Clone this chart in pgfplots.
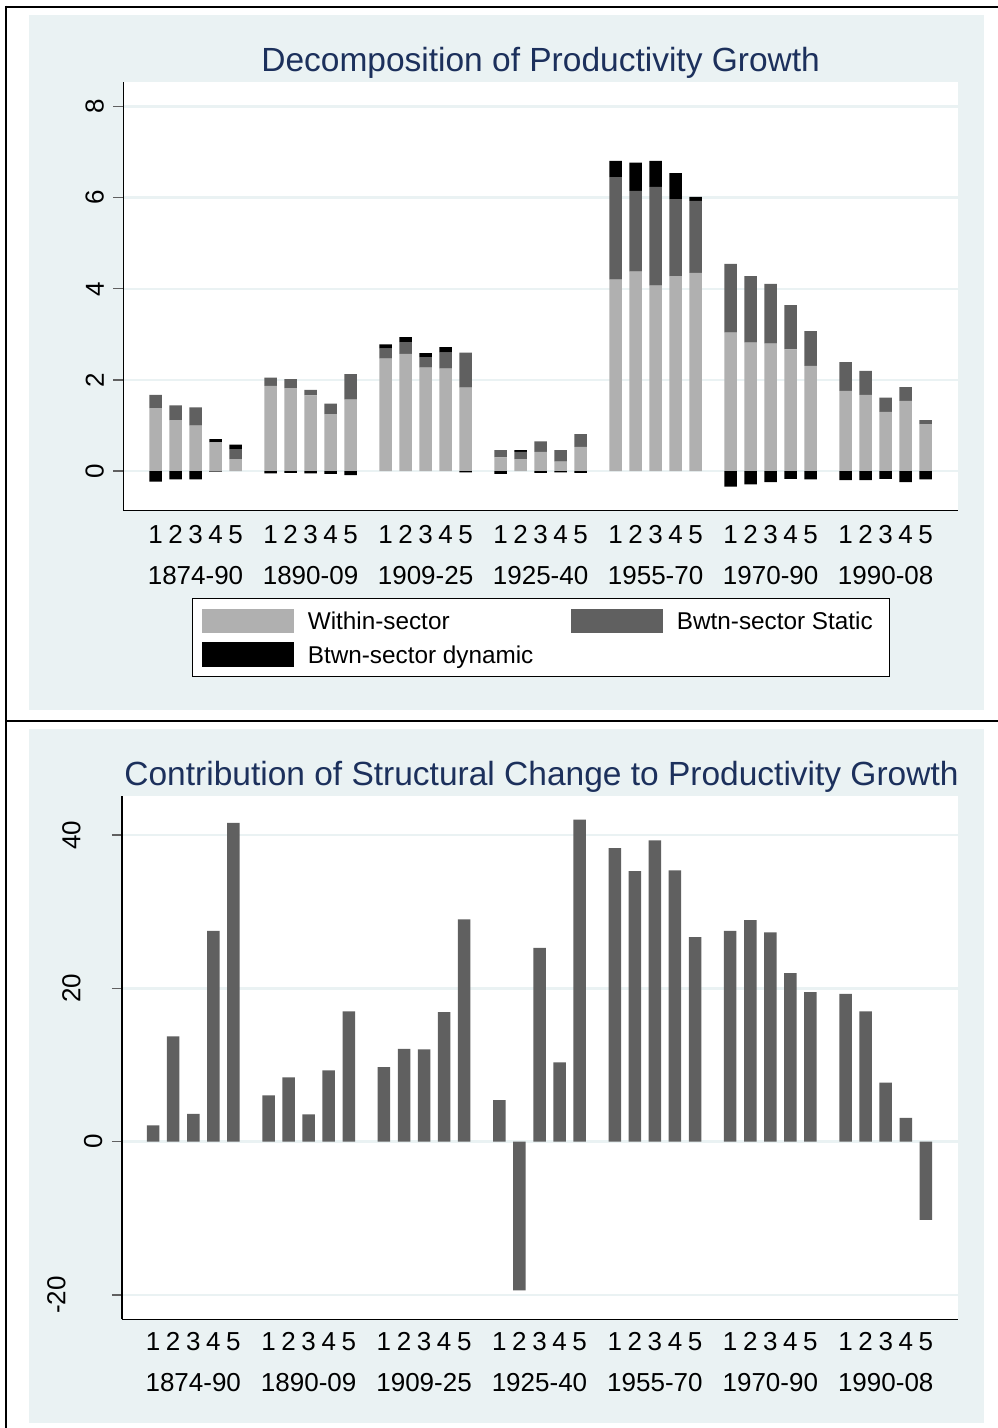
\documentclass[border=0pt]{standalone}
\usepackage{fontspec}
\setmainfont{Liberation Sans}
\usepackage{pgfplots}
\pgfplotsset{compat=1.18}
\usepackage{pgfplotstable}
\definecolor{bgc}{RGB}{234,242,243}
\definecolor{titc}{RGB}{28,48,92}
\definecolor{lgray}{RGB}{176,176,176}
\definecolor{dgray}{RGB}{96,96,96}

% x position, within-sector, between-sector static, between-sector dynamic
\pgfplotstableread{
x within static dynamic
0 1.38 0.29 -0.23
1 1.12 0.32 -0.18
2 1.00 0.40 -0.18
3 0.63 -0.02 0.07
4 0.26 0.22 0.10
5.75 1.87 0.18 -0.05
6.75 1.82 0.20 -0.04
7.75 1.66 0.12 -0.05
8.75 1.25 0.23 -0.06
9.75 1.57 0.56 -0.09
11.5 2.47 0.22 0.09
12.5 2.57 0.26 0.11
13.5 2.27 0.23 0.09
14.5 2.25 0.35 0.12
15.5 1.83 0.77 -0.03
17.25 0.30 0.16 -0.06
18.25 0.26 0.16 0.04
19.25 0.42 0.23 -0.04
20.25 0.21 0.25 -0.03
21.25 0.53 0.28 -0.04
23 4.20 2.25 0.36
24 4.38 1.77 0.62
25 4.07 2.17 0.57
26 4.28 1.69 0.57
27 4.35 1.58 0.09
28.75 3.04 1.51 -0.34
29.75 2.82 1.46 -0.29
30.75 2.80 1.31 -0.24
31.75 2.67 0.97 -0.17
32.75 2.31 0.76 -0.18
34.5 1.76 0.63 -0.20
35.5 1.67 0.53 -0.20
36.5 1.30 0.31 -0.17
37.5 1.54 0.30 -0.24
38.5 1.03 0.09 -0.18
}\decomp

% contribution of structural change (percent)
\pgfplotstableread{
x share
0 2.14
1 13.75
2 3.65
3 27.5
4 41.6
5.75 6.05
6.75 8.40
7.75 3.57
8.75 9.31
9.75 17.0
11.5 9.74
12.5 12.1
13.5 12.05
14.5 16.9
15.5 29.0
17.25 5.44
18.25 -19.4
19.25 25.3
20.25 10.35
21.25 42.0
23 38.3
24 35.3
25 39.3
26 35.4
27 26.7
28.75 27.5
29.75 28.9
30.75 27.3
31.75 22.0
32.75 19.5
34.5 19.3
35.5 17.0
36.5 7.7
37.5 3.1
38.5 -10.2
}\contrib

\newcommand\tickfont{\fontsize{26}{30}\selectfont}
\newcommand\legfont{\fontsize{24.3}{28}\selectfont}
\newcommand\titfont{\fontsize{33.5}{40}\selectfont}

\pgfplotsset{
  basestyle/.style={
    scale only axis,
    anchor=south west,
    clip=false,
    axis lines*=left,
    axis line style={black, line width=1.2pt},
    tick align=outside,
    major tick length=10pt,
    ymajorgrids,
    grid style={bgc, line width=2.5pt},
    xtick={0,1,2,3,4,5.75,6.75,7.75,8.75,9.75,11.5,12.5,13.5,14.5,15.5,17.25,18.25,19.25,20.25,21.25,23,24,25,26,27,28.75,29.75,30.75,31.75,32.75,34.5,35.5,36.5,37.5,38.5},
    xticklabels={1,2,3,4,5,1,2,3,4,5,1,2,3,4,5,1,2,3,4,5,1,2,3,4,5,1,2,3,4,5,1,2,3,4,5},
    x tick style={draw=none},
    y tick style={dgray, line width=1.2pt},
    xticklabel style={anchor=base, inner sep=0pt, font=\tickfont},
    yticklabel style={rotate=90, anchor=south, inner sep=0pt, yshift=9.5pt, font=\tickfont},
    /pgf/number format/assume math mode=true,
    bar width=12.5pt,
  },
}

\begin{document}
\begin{tikzpicture}
\useasboundingbox (0pt,0pt) rectangle (998pt,-1428pt);
% panels
\fill[bgc] (29pt,-15pt) rectangle (983.5pt,-709.5pt);
\fill[bgc] (28.5pt,-728.5pt) rectangle (984pt,-1423pt);
\draw[black, line width=2.3pt] (5pt,-6.7pt) -- (998pt,-6.7pt);
\draw[black, line width=2.3pt] (6pt,-5.6pt) -- (6pt,-1428pt);
\draw[black, line width=2.3pt] (5pt,-721pt) -- (998pt,-721pt);
% titles
\node[anchor=base, font=\titfont, text=titc, inner sep=0pt] at (540.6pt,-71pt) {Decomposition of Productivity Growth};
\node[anchor=base, font=\titfont, text=titc, inner sep=0pt] at (541.5pt,-785pt) {Contribution of Structural Change to Productivity Growth};

% ---------- top chart: positive parts ----------
\begin{axis}[basestyle,
  at={(123.5pt,-510.7pt)},
  width=834.2pt, height=428.7pt,
  xmin=-1.6, xmax=40.1, ymin=-0.87, ymax=8.54,
  ytick={0,2,4,6,8},
  axis background/.style={fill=white},
  xticklabel style={yshift=-22.6pt},
  ybar stacked,
  legend columns=2,
  legend cell align=left,
  legend image code/.code={\fill[#1] (0pt,-12.2pt) rectangle (91.6pt,12.2pt);},
  legend style={at={(0.0818,-0.2043)}, anchor=north west, draw=black, line width=1pt, fill=white,
    inner xsep=10pt, inner ysep=10pt, row sep=9.3pt,
    font=\legfont,
    nodes={inner sep=0pt},
    /tikz/every odd column/.append style={column sep=14pt},
    /tikz/every even column/.append style={column sep=38pt}},
]
\addplot[fill=lgray, draw=none] table[x=x, y expr={max(\thisrow{within},0)}] {\decomp};
\addlegendentry{Within-sector}
\addplot[fill=dgray, draw=none] table[x=x, y expr={max(\thisrow{static},0)}] {\decomp};
\addlegendentry{Bwtn-sector Static\rule{7pt}{0pt}}
\addplot[fill=black, draw=none] table[x=x, y expr={max(\thisrow{dynamic},0)}] {\decomp};
\addlegendentry{\raisebox{-2pt}{Btwn-sector dynamic}}
\node[anchor=base, font=\tickfont, inner sep=0pt, yshift=-73.6pt] at (axis cs:2,-0.87) {1874-90};
\node[anchor=base, font=\tickfont, inner sep=0pt, yshift=-73.6pt] at (axis cs:7.75,-0.87) {1890-09};
\node[anchor=base, font=\tickfont, inner sep=0pt, yshift=-73.6pt] at (axis cs:13.5,-0.87) {1909-25};
\node[anchor=base, font=\tickfont, inner sep=0pt, yshift=-73.6pt] at (axis cs:19.25,-0.87) {1925-40};
\node[anchor=base, font=\tickfont, inner sep=0pt, yshift=-73.6pt] at (axis cs:25,-0.87) {1955-70};
\node[anchor=base, font=\tickfont, inner sep=0pt, yshift=-73.6pt] at (axis cs:30.75,-0.87) {1970-90};
\node[anchor=base, font=\tickfont, inner sep=0pt, yshift=-73.6pt] at (axis cs:36.5,-0.87) {1990-08};
\end{axis}

% ---------- top chart: negative parts ----------
\begin{axis}[basestyle,
  at={(123.5pt,-510.7pt)},
  width=834.2pt, height=428.7pt,
  xmin=-1.6, xmax=40.1, ymin=-0.87, ymax=8.54,
  hide axis,
  ybar stacked,
]
\addplot[fill=lgray, draw=none] table[x=x, y expr={min(\thisrow{within},0)}] {\decomp};
\addplot[fill=dgray, draw=none] table[x=x, y expr={min(\thisrow{static},0)}] {\decomp};
\addplot[fill=black, draw=none] table[x=x, y expr={min(\thisrow{dynamic},0)}] {\decomp};
\end{axis}

% ---------- bottom chart ----------
\begin{axis}[basestyle,
  at={(122pt,-1319.3pt)},
  width=836pt, height=523.3pt,
  xmin=-1.55, xmax=40.1, ymin=-23.16, ymax=45.09,
  ytick={-20,0,20,40},
  yticklabels={\raisebox{37pt}{-20},0,\raisebox{22pt}{20},\raisebox{22pt}{40}},
  axis background/.style={fill=white},
  xticklabel style={yshift=-20.7pt},
  ybar, bar shift=0pt,
]
\addplot[fill=dgray, draw=none] table[x=x, y=share] {\contrib};
\node[anchor=base, font=\tickfont, inner sep=0pt, yshift=-71.7pt] at (axis cs:2,-23.16) {1874-90};
\node[anchor=base, font=\tickfont, inner sep=0pt, yshift=-71.7pt] at (axis cs:7.75,-23.16) {1890-09};
\node[anchor=base, font=\tickfont, inner sep=0pt, yshift=-71.7pt] at (axis cs:13.5,-23.16) {1909-25};
\node[anchor=base, font=\tickfont, inner sep=0pt, yshift=-71.7pt] at (axis cs:19.25,-23.16) {1925-40};
\node[anchor=base, font=\tickfont, inner sep=0pt, yshift=-71.7pt] at (axis cs:25,-23.16) {1955-70};
\node[anchor=base, font=\tickfont, inner sep=0pt, yshift=-71.7pt] at (axis cs:30.75,-23.16) {1970-90};
\node[anchor=base, font=\tickfont, inner sep=0pt, yshift=-71.7pt] at (axis cs:36.5,-23.16) {1990-08};
\end{axis}
\end{tikzpicture}
\end{document}
